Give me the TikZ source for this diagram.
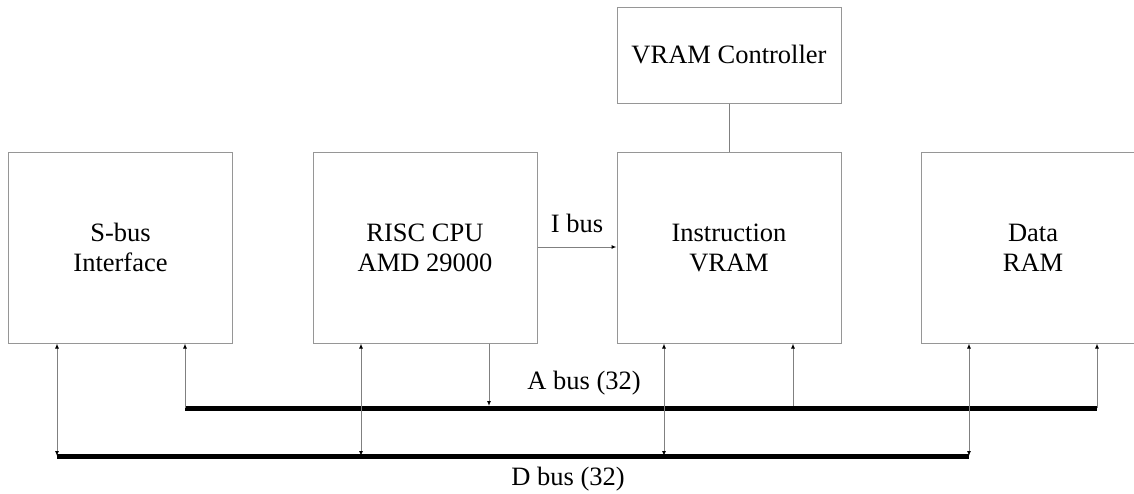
\documentclass[tikz,border=0pt]{standalone}
\usepackage{fontspec}
\setmainfont{Liberation Serif}
\usetikzlibrary{arrows.meta}
\definecolor{boxgray}{RGB}{150,150,150}
\definecolor{wiregray}{RGB}{128,128,128}
\begin{document}
\begin{tikzpicture}[x=1pt,y=-1pt,
  unit/.style={draw=boxgray,line width=1pt,minimum width=224pt,minimum height=191pt,
    inner sep=0pt,align=center,font=\fontsize{26.5}{30}\selectfont},
  ctrl/.style={draw=boxgray,line width=1pt,minimum width=224pt,minimum height=96pt,
    inner sep=0pt,align=center,font=\fontsize{26.5}{30}\selectfont},
  wire/.style={draw=wiregray,line width=1pt},
  tip/.style={Latex[length=5pt,width=4pt,color=black]},
  bus/.style={line width=5pt,black},
  lab/.style={font=\fontsize{26.5}{30}\selectfont,inner sep=0pt}]
\useasboundingbox (0,0) rectangle (1134,493);
\clip (0,0) rectangle (1134,493);
% boxes
\node[unit] (sbus) at (120.5,247.5) {S-bus\\Interface};
\node[unit] (cpu) at (425,247.5) {RISC CPU\\AMD 29000};
\node[unit] (ivram) at (729,247.5) {Instruction\\VRAM};
\node[unit] (dram) at (1033,247.5) {Data\\RAM};
\node[ctrl] (ctrl) at (729,55) {VRAM Controller};
\draw[wire] (ctrl.south) -- (ivram.north);
% I bus
\draw[wire,-{Latex[length=5pt,width=4pt,color=black]}] (cpu.east |- 0,247) -- (ivram.west |- 0,247);
\node[lab] (ibus) at (577,223) {I bus};
% buses
\coordinate (aL) at (185,408);
\coordinate (aR) at (1097,408);
\coordinate (dL) at (57,456);
\coordinate (dR) at (969,456);
\draw[bus] (aL) -- (aR);
\draw[bus] (dL) -- (dR);
\node[lab] (alab) at (584,383) {A bus (32)};
\node[lab] (dlab) at (568,479) {D bus (32)};
% D bus connections (bidirectional)
\foreach \x/\b in {57/sbus,361/cpu,664/ivram,969/dram}{
  \draw[wire,{Latex[length=5pt,width=4pt,color=black]}-{Latex[length=5pt,width=4pt,color=black]}]
    (\b.south -| \x,0) -- (\x,456);
}
% A bus connections
\draw[wire,-{Latex[length=5pt,width=4pt,color=black]}] (185,408) -- (sbus.south -| 185,0);
\draw[wire,-{Latex[length=5pt,width=4pt,color=black]}] (cpu.south -| 489,0) -- (489,406);
\draw[wire,-{Latex[length=5pt,width=4pt,color=black]}] (793,406) -- (ivram.south -| 793,0);
\draw[wire,-{Latex[length=5pt,width=4pt,color=black]}] (1097,408) -- (dram.south -| 1097,0);
\end{tikzpicture}
\end{document}
